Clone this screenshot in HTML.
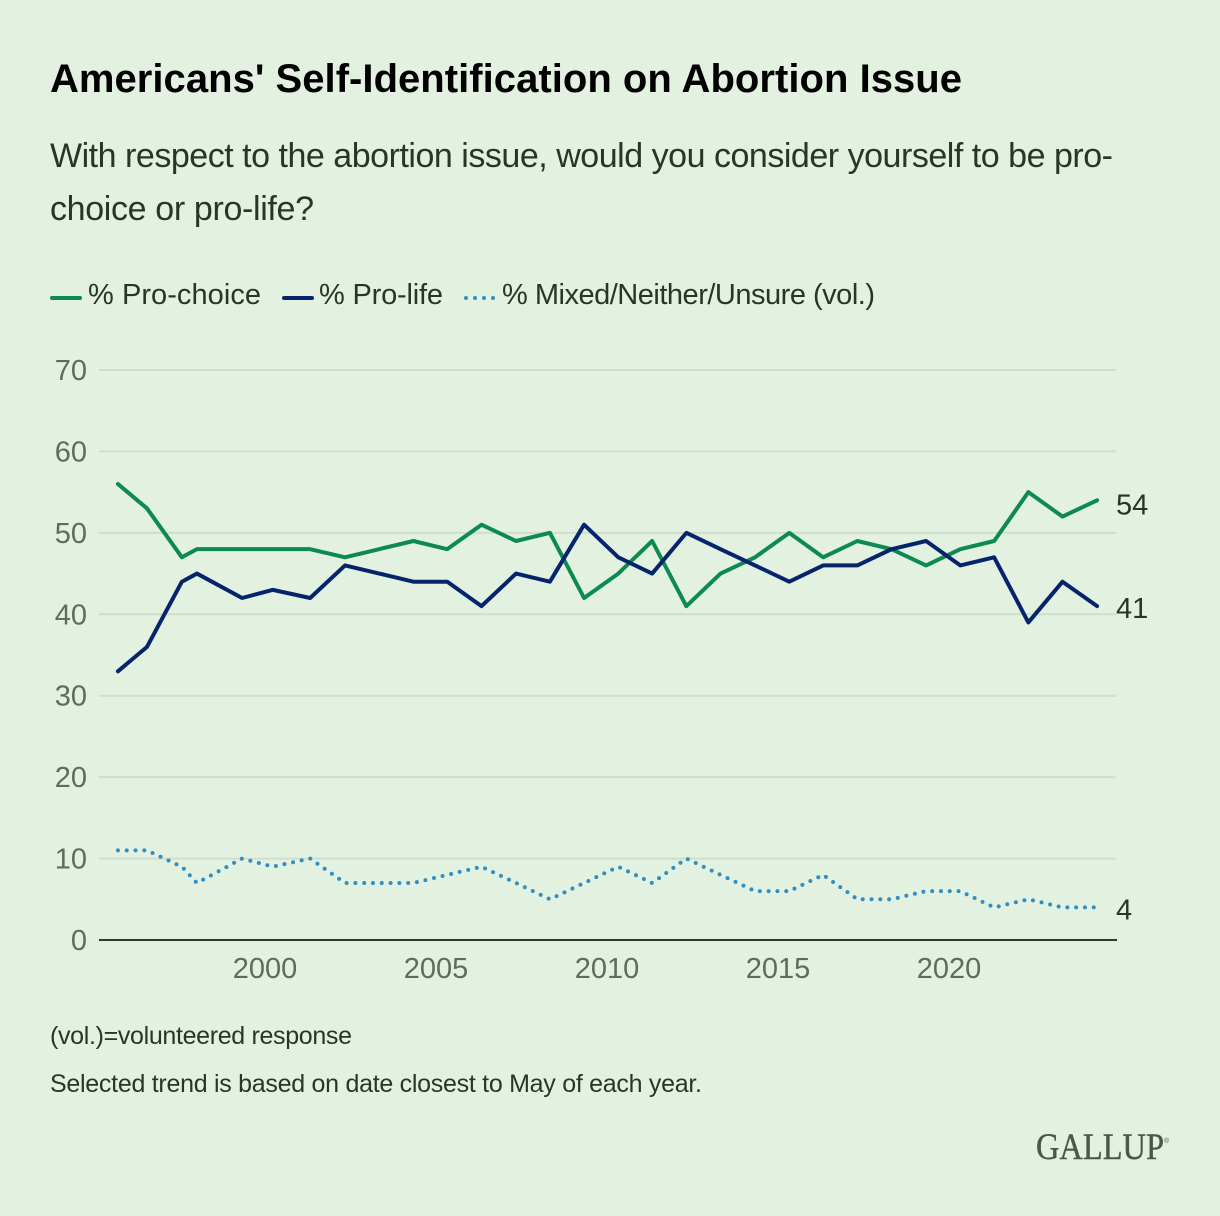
<!DOCTYPE html>
<html lang="en">
<head>
<meta charset="utf-8">
<title>Americans' Self-Identification on Abortion Issue</title>
<style>
html,body{margin:0;padding:0;background:#e3f1e1;}
svg{display:block;font-family:"Liberation Sans",sans-serif;}
</style>
</head>
<body>
<svg id="chart" width="1220" height="1216" viewBox="0 0 1220 1216" xmlns="http://www.w3.org/2000/svg">
  <rect width="1220" height="1216" fill="#e3f1e1"/>
  <text x="50" y="92" font-size="40" font-weight="700" fill="#000" textLength="912" lengthAdjust="spacing">Americans' Self-Identification on Abortion Issue</text>
  <text x="50" y="167" font-size="34" fill="#2a352a" textLength="1063" lengthAdjust="spacing">With respect to the abortion issue, would you consider yourself to be pro-</text>
  <text x="50" y="220" font-size="34" fill="#2a352a" textLength="264" lengthAdjust="spacing">choice or pro-life?</text>

  <g>
    <line x1="52" y1="298" x2="80" y2="298" stroke="#0c8a50" stroke-width="4" stroke-linecap="round"/>
    <text x="88" y="304" font-size="29" fill="#2a352a" textLength="173" lengthAdjust="spacing">% Pro-choice</text>
    <line x1="284" y1="298" x2="312" y2="298" stroke="#06246b" stroke-width="4" stroke-linecap="round"/>
    <text x="319" y="304" font-size="29" fill="#2a352a" textLength="124" lengthAdjust="spacing">% Pro-life</text>
    <line x1="466" y1="298" x2="495" y2="298" stroke="#2f8fc4" stroke-width="4" stroke-linecap="round" stroke-dasharray="0 9"/>
    <text x="502" y="304" font-size="29" fill="#2a352a" textLength="373" lengthAdjust="spacing">% Mixed/Neither/Unsure (vol.)</text>
  </g>

  <g id="grid"></g>
  <g id="yaxis"></g>
  <g id="xaxis"></g>
  <g id="series"></g>
  <g id="endlabels"></g>

  <text x="50" y="1044" font-size="25" fill="#2a352a" textLength="302" lengthAdjust="spacing">(vol.)=volunteered response</text>
  <text x="50" y="1092" font-size="25" fill="#2a352a" textLength="652" lengthAdjust="spacing">Selected trend is based on date closest to May of each year.</text>
  <g>
    <text x="1036" y="1159" font-family="'Liberation Serif',serif" font-size="37" fill="#4d564c" stroke="#4d564c" stroke-width="0.4" textLength="128" lengthAdjust="spacingAndGlyphs">GALLUP</text>
    <text x="1164" y="1143" font-size="7" fill="#4d564c">®</text>
  </g>
</svg>
<script>
const dates = [1995.7,1996.55,1997.57,1998.01,1999.33,2000.23,2001.32,2002.34,2003.34,2004.34,2005.33,2006.33,2007.34,2008.33,2009.33,2010.33,2011.32,2012.32,2013.32,2014.33,2015.33,2016.32,2017.32,2018.32,2019.33,2020.33,2021.32,2022.32,2023.32,2024.33];
const proChoice = [56,53,47,48,48,48,48,47,48,49,48,51,49,50,42,45,49,41,45,47,50,47,49,48,46,48,49,55,52,54];
const proLife = [33,36,44,45,42,43,42,46,45,44,44,41,45,44,51,47,45,50,48,46,44,46,46,48,49,46,47,39,44,41];
const mixed = [11,11,9,7,10,9,10,7,7,7,8,9,7,5,7,9,7,10,8,6,6,8,5,5,6,6,4,5,4,4];
const yTicks = [0,10,20,30,40,50,60,70];
const xTicks = [2000,2005,2010,2015,2020];

const NS = 'http://www.w3.org/2000/svg';
function xScale(year){ return 265 + (year - 2000) * 34.2; }
function yScale(v){ return 940 - v * (570 / 70); }
function make(tag, attrs, parent, txt){
  const el = document.createElementNS(NS, tag);
  for (const k in attrs) el.setAttribute(k, attrs[k]);
  if (txt !== undefined) el.textContent = txt;
  parent.appendChild(el);
  return el;
}
const gridG = document.getElementById('grid');
const yG = document.getElementById('yaxis');
const xG = document.getElementById('xaxis');
const sG = document.getElementById('series');
const lG = document.getElementById('endlabels');

yTicks.forEach(function(t){
  if (t !== 0) {
    const g = make('line', {x1:99, x2:1116, y1:yScale(t), y2:yScale(t), stroke:'#cfdecd', 'stroke-width':2}, gridG);
    
    
  }
  const l = make('text', {x:87, y:yScale(t) + 10, 'font-size':29, fill:'#5f6b5e', 'text-anchor':'end'}, yG, String(t));
  
  
});
const baseline = make('line', {x1:99, x2:1117, y1:yScale(0), y2:yScale(0), stroke:'#2e3a2c', 'stroke-width':2}, xG);


xTicks.forEach(function(t){
  const l = make('text', {x:xScale(t), y:978, 'font-size':29, fill:'#5f6b5e', 'text-anchor':'middle'}, xG, String(t));
  
  
});
function pathFor(vals){
  return vals.map(function(v, i){ return (i ? 'L' : 'M') + xScale(dates[i]).toFixed(2) + ' ' + yScale(v).toFixed(2); }).join(' ');
}
const proChoiceLine = make('path', {d:pathFor(proChoice), fill:'none', stroke:'#0c8a50', 'stroke-width':4, 'stroke-linejoin':'round', 'stroke-linecap':'round'}, sG);


const proLifeLine = make('path', {d:pathFor(proLife), fill:'none', stroke:'#06246b', 'stroke-width':4, 'stroke-linejoin':'round', 'stroke-linecap':'round'}, sG);


const mixedLine = make('path', {d:pathFor(mixed), fill:'none', stroke:'#2f8fc4', 'stroke-width':4, 'stroke-linejoin':'round', 'stroke-linecap':'round', 'stroke-dasharray':'0 8.8'}, sG);



const lastX = 1116;
const endChoice = make('text', {x:lastX, y:yScale(proChoice[proChoice.length-1]) + 14, 'font-size':29, fill:'#2a352a'}, lG, String(proChoice[proChoice.length-1]));


const endLife = make('text', {x:lastX, y:yScale(proLife[proLife.length-1]) + 12, 'font-size':29, fill:'#2a352a'}, lG, String(proLife[proLife.length-1]));


const endMixed = make('text', {x:lastX, y:yScale(mixed[mixed.length-1]) + 12, 'font-size':29, fill:'#2a352a'}, lG, String(mixed[mixed.length-1]));


</script>
</body>
</html>
